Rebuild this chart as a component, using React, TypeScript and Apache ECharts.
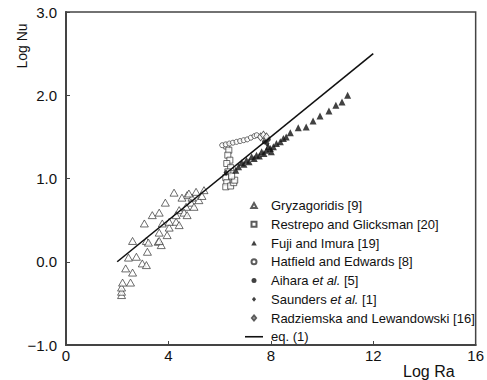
import React, { useEffect, useRef } from 'react';
import * as echarts from 'echarts';

const FONT = '"Liberation Sans", Arial, Helvetica, sans-serif';

const xTicks = [0, 4, 8, 12, 16];
const yTicks = [-1, 0, 1, 2, 3];

const seriesNames = [
  'Gryzagoridis [9]',
  'Restrepo and Glicksman [20]',
  'Fuji and Imura [19]',
  'Hatfield and Edwards [8]',
  'Aihara et al. [5]',
  'Saunders et al. [1]',
  'Radziemska and Lewandowski [16]',
  'eq. (1)',
];

const gryzagoridis = [
  [2.17, -0.40], [2.17, -0.36], [2.17, -0.31], [2.21, -0.25], [2.52, -0.25],
  [2.33, -0.08], [2.60, -0.13], [2.44, 0.05], [2.75, 0.06], [2.98, -0.02],
  [3.14, -0.04], [3.18, 0.12], [3.60, 0.24], [3.72, 0.20], [2.60, 0.25],
  [3.14, 0.25], [3.22, 0.23], [3.64, 0.35], [3.64, 0.25], [3.95, 0.32],
  [4.03, 0.41], [4.30, 0.48], [4.42, 0.44], [3.06, 0.46], [3.76, 0.46],
  [4.03, 0.48], [3.37, 0.56], [3.64, 0.59], [3.88, 0.71], [4.22, 0.83],
  [4.73, 0.80], [4.53, 0.77], [4.92, 0.77], [5.08, 0.84], [4.88, 0.71],
  [4.69, 0.66], [5.00, 0.66], [4.42, 0.62], [4.61, 0.59], [4.73, 0.56],
  [4.30, 0.56], [5.19, 0.74], [5.31, 0.79], [5.39, 0.86], [4.80, 0.82],
];

const restrepo = [
  [6.28, 1.39], [6.36, 1.34], [6.32, 1.28], [6.40, 1.22], [6.28, 1.18],
  [6.43, 1.13], [6.32, 1.08], [6.24, 1.01], [6.28, 0.95], [6.24, 0.90],
  [6.43, 0.91], [6.55, 0.95], [6.59, 0.98], [6.47, 1.03],
];

const fuji = [
  [6.63, 1.10], [6.74, 1.14], [6.86, 1.19], [6.95, 1.17], [7.05, 1.22],
  [7.15, 1.20], [7.25, 1.26], [7.35, 1.24], [7.44, 1.28], [7.55, 1.27],
  [7.64, 1.32], [7.73, 1.30], [7.83, 1.34], [7.90, 1.38], [7.98, 1.36],
  [8.02, 1.32], [8.10, 1.38], [8.22, 1.42], [8.37, 1.44], [8.49, 1.48],
  [8.60, 1.50], [8.76, 1.55], [9.07, 1.61], [9.38, 1.62], [9.65, 1.69],
  [9.92, 1.75], [10.27, 1.81], [10.54, 1.88], [10.78, 1.92], [11.00, 2.00],
];

const hatfield = [
  [6.10, 1.40], [6.24, 1.41], [6.38, 1.42], [6.52, 1.43], [6.66, 1.44],
  [6.80, 1.45], [6.94, 1.46], [7.08, 1.47], [7.22, 1.49], [7.36, 1.51],
  [7.45, 1.52],
];

const aihara = [
  [7.75, 1.44], [7.90, 1.47],
];

const saunders = [
  [6.25, 1.07], [7.85, 1.42],
];

const radziemska = [
  [7.60, 1.50], [7.71, 1.52], [7.83, 1.50],
];

const eqLine = [
  [2, 0], [12, 2.5],
];

const ICON_TRI = 'path://M5,0L10,9L0,9Z';
const ICON_SQ = 'path://M0,0H10V10H0Z';
const ICON_CIRC = 'path://M5,0A5,5,0,1,1,5,10A5,5,0,1,1,5,0Z';
const ICON_DIA = 'path://M5,0L10,6L5,12L0,6Z';
const ICON_LINE = 'path://M0,0H18V1.6H0Z';

export default function App() {
  const ref = useRef<HTMLDivElement>(null);

  useEffect(() => {
    const chart = echarts.init(ref.current as HTMLDivElement, null, { renderer: 'svg' });
    const open = { color: '#fff', borderColor: '#333', borderWidth: 0.9 };
    const filled = { color: '#111' };
    chart.setOption({
      animation: false,
      backgroundColor: '#fff',
      textStyle: { fontFamily: FONT },
      grid: {
        left: 66, right: 8, top: 12, bottom: 35,
        show: true, borderColor: '#444', borderWidth: 1.5,
        backgroundColor: 'transparent',
      },
      xAxis: {
        type: 'value',
        min: xTicks[0], max: xTicks[xTicks.length - 1], interval: 4,
        name: 'Log Ra',
        nameLocation: 'end',
        nameGap: -21,
        nameTextStyle: {
          fontSize: 16, color: '#111', fontFamily: FONT,
          align: 'right', verticalAlign: 'top', padding: [18, 0, 0, 0],
        },
        axisLine: { onZero: false, lineStyle: { color: '#444', width: 2 } },
        axisTick: { inside: true, length: 4, lineStyle: { color: '#444' } },
        axisLabel: { fontSize: 15, color: '#111', margin: 3, fontFamily: FONT },
        splitLine: { show: false },
      },
      yAxis: {
        type: 'value',
        min: yTicks[0], max: yTicks[yTicks.length - 1], interval: 1,
        axisLine: { show: true, onZero: false, lineStyle: { color: '#444', width: 2 } },
        axisTick: { show: true, inside: true, length: 4, lineStyle: { color: '#444' } },
        axisLabel: {
          fontSize: 15, color: '#111', margin: 9, fontFamily: FONT,
          formatter: (v: number) => (v < 0 ? '\u2212' + Math.abs(v).toFixed(1) : v.toFixed(1)),
        },
        splitLine: { show: false },
      },
      graphic: [
        {
          type: 'text',
          x: 22, y: 46,
          rotation: Math.PI / 2,
          style: {
            text: 'Log Nu', fontSize: 14, fill: '#111', fontFamily: FONT,
            align: 'center', verticalAlign: 'middle',
          },
        },
      ],
      legend: {
        orient: 'vertical',
        left: 240,
        top: 193.5,
        itemWidth: 18,
        itemHeight: 5,
        itemGap: 4.75,
        formatter: (name: string) => name.replace('et al.', '{i|et al.}'),
        textStyle: {
          fontSize: 13, color: '#111', fontFamily: FONT, lineHeight: 14,
          padding: [0, 0, 0, 3],
          rich: { i: { fontStyle: 'italic', fontSize: 13, color: '#111', fontFamily: FONT, lineHeight: 14 } },
        },
        data: [
          { name: seriesNames[0], icon: ICON_TRI },
          { name: seriesNames[1], icon: ICON_SQ },
          { name: seriesNames[2], icon: ICON_TRI },
          { name: seriesNames[3], icon: ICON_CIRC },
          { name: seriesNames[4], icon: ICON_CIRC },
          { name: seriesNames[5], icon: ICON_DIA },
          { name: seriesNames[6], icon: ICON_DIA },
          { name: seriesNames[7], icon: ICON_LINE, itemStyle: { color: '#111', borderWidth: 0 } },
        ],
      },
      series: [
        { name: seriesNames[0], type: 'scatter', data: gryzagoridis, symbol: 'triangle', symbolSize: [8, 7], itemStyle: open },
        { name: seriesNames[1], type: 'scatter', data: restrepo, symbol: 'rect', symbolSize: 6, itemStyle: open },
        { name: seriesNames[2], type: 'scatter', data: fuji, symbol: 'triangle', symbolSize: [7, 7], itemStyle: filled },
        { name: seriesNames[3], type: 'scatter', data: hatfield, symbol: 'circle', symbolSize: 5, itemStyle: open },
        { name: seriesNames[4], type: 'scatter', data: aihara, symbol: 'circle', symbolSize: 5, itemStyle: filled },
        { name: seriesNames[5], type: 'scatter', data: saunders, symbol: 'diamond', symbolSize: [5, 7], itemStyle: filled },
        { name: seriesNames[6], type: 'scatter', data: radziemska, symbol: 'diamond', symbolSize: [6, 8], itemStyle: open },
        {
          name: seriesNames[7], type: 'line', data: eqLine, symbol: 'none', z: 5,
          lineStyle: { color: '#111', width: 1.6 }, itemStyle: { color: '#111' },
        },
      ],
    });
    return () => chart.dispose();
  }, []);

  return <div ref={ref} style={{ position: 'absolute', left: 0, top: 0, width: 487, height: 380 }} />;
}
